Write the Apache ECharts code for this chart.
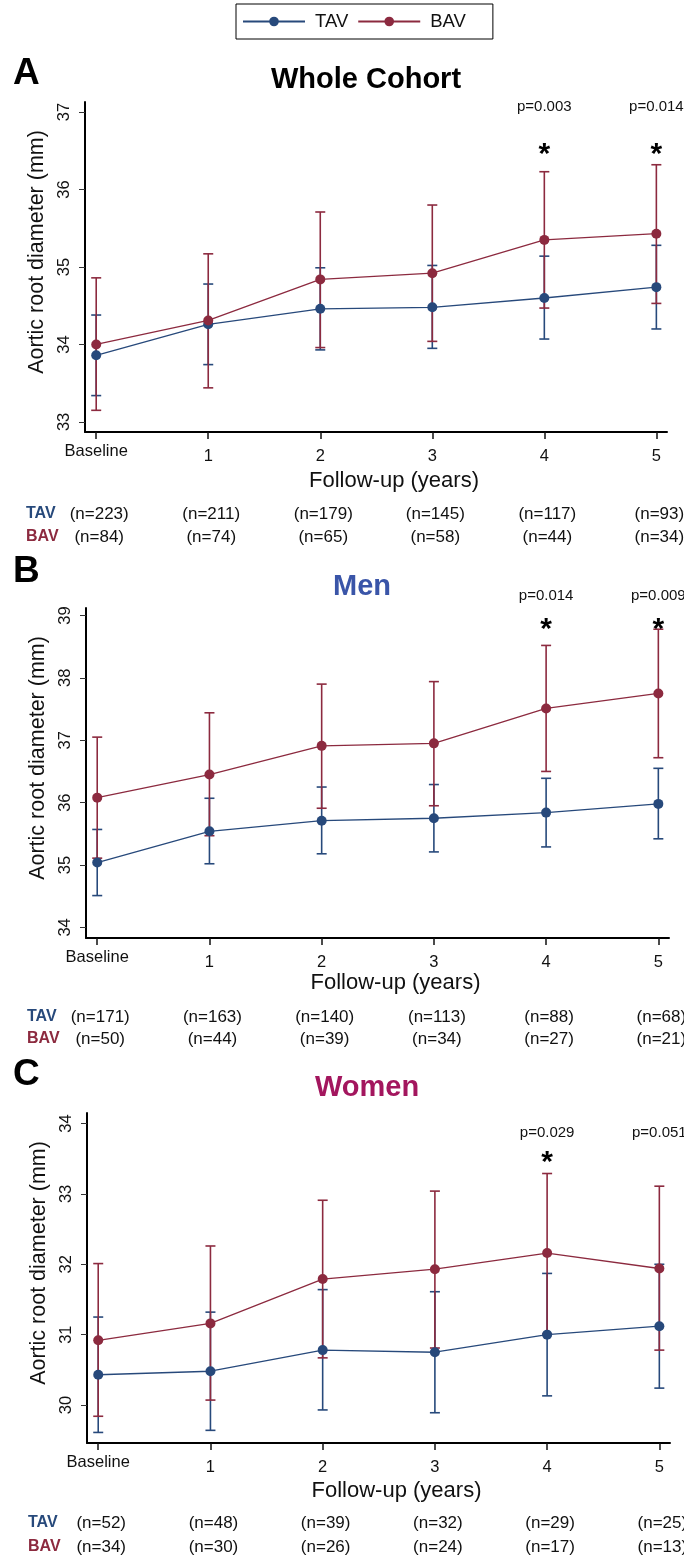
<!DOCTYPE html>
<html><head><meta charset="utf-8">
<script src="https://cdn.jsdelivr.net/npm/echarts@6/dist/echarts.min.js"></script>
<style>html,body{margin:0;padding:0;background:#fff}#c{width:684px;height:1557px}</style>
</head><body><div id="c"></div>
<script>
// ---------- data ----------
const years = [0, 1, 2, 3, 4, 5];
const xTickLabels = ['Baseline', '1', '2', '3', '4', '5'];
const seriesNames = ['TAV', 'BAV'];

// Panel A: Whole cohort
const tavA    = [33.86, 34.26, 34.46, 34.48, 34.60, 34.74];
const tavA_lo = [33.34, 33.74, 33.93, 33.95, 34.07, 34.20];
const tavA_hi = [34.38, 34.78, 34.99, 35.02, 35.14, 35.28];
const bavA    = [34.00, 34.31, 34.84, 34.92, 35.35, 35.43];
const bavA_lo = [33.15, 33.44, 33.96, 34.04, 34.47, 34.53];
const bavA_hi = [34.86, 35.17, 35.71, 35.80, 36.23, 36.32];
const nTavA = [223, 211, 179, 145, 117, 93];
const nBavA = [84, 74, 65, 58, 44, 34];
const pA    = ['', '', '', '', 'p=0.003', 'p=0.014'];
const starA = [false, false, false, false, true, true];
const yTicksA = [33, 34, 35, 36, 37];

// Panel B: Men
const tavB    = [35.04, 35.54, 35.71, 35.75, 35.84, 35.98];
const tavB_lo = [34.51, 35.02, 35.18, 35.21, 35.29, 35.42];
const tavB_hi = [35.57, 36.07, 36.25, 36.29, 36.39, 36.55];
const bavB    = [36.08, 36.45, 36.91, 36.95, 37.51, 37.75];
const bavB_lo = [35.11, 35.47, 35.91, 35.95, 36.50, 36.72];
const bavB_hi = [37.05, 37.44, 37.90, 37.94, 38.52, 38.78];
const nTavB = [171, 163, 140, 113, 88, 68];
const nBavB = [50, 44, 39, 34, 27, 21];
const pB    = ['', '', '', '', 'p=0.014', 'p=0.009'];
const starB = [false, false, false, false, true, true];
const yTicksB = [34, 35, 36, 37, 38, 39];

// Panel C: Women
const tavC    = [30.43, 30.48, 30.78, 30.75, 31.00, 31.12];
const tavC_lo = [29.61, 29.64, 29.93, 29.89, 30.13, 30.24];
const tavC_hi = [31.25, 31.32, 31.64, 31.61, 31.87, 32.00];
const bavC    = [30.92, 31.16, 31.79, 31.93, 32.16, 31.94];
const bavC_lo = [29.84, 30.07, 30.67, 30.81, 31.01, 30.78];
const bavC_hi = [32.01, 32.26, 32.91, 33.04, 33.29, 33.11];
const nTavC = [52, 48, 39, 32, 29, 25];
const nBavC = [34, 30, 26, 24, 17, 13];
const pC    = ['', '', '', '', 'p=0.029', 'p=0.051'];
const starC = [false, false, false, false, true, false];
const yTicksC = [30, 31, 32, 33, 34];

const titles = ['Whole Cohort', 'Men', 'Women'];
const letters = ['A', 'B', 'C'];

// ---------- style / layout ----------
const FONT = '"Liberation Sans", Arial, Helvetica, sans-serif';
const C_TAV = '#27497b';
const C_BAV = '#8c2a3f';
const titleColors = ['#000000', '#3a55a8', '#a3165e'];

const panels = [
  { tav: tavA, tavLo: tavA_lo, tavHi: tavA_hi, bav: bavA, bavLo: bavA_lo, bavHi: bavA_hi,
    nTav: nTavA, nBav: nBavA, p: pA, star: starA, yTicks: yTicksA,
    grid: { left: 85, right: 17, top: 102, height: 330 }, yMin: 32.87, yMax: 37.13,
    pOff: 5, starOff: 45, nOff: [82, 105], nameGap: 38, titleX: 366, titleY: 80, letterY: 74 },
  { tav: tavB, tavLo: tavB_lo, tavHi: tavB_hi, bav: bavB, bavLo: bavB_lo, bavHi: bavB_hi,
    nTav: nTavB, nBav: nBavB, p: pB, star: starB, yTicks: yTicksB,
    grid: { left: 86, right: 15, top: 608, height: 330 }, yMin: 33.83, yMax: 39.12,
    pOff: -12, starOff: 14, nOff: [79, 101], nameGap: 34, titleX: 362, titleY: 587, letterY: 572 },
  { tav: tavC, tavLo: tavC_lo, tavHi: tavC_hi, bav: bavC, bavLo: bavC_lo, bavHi: bavC_hi,
    nTav: nTavC, nBav: nBavC, p: pC, star: starC, yTicks: yTicksC,
    grid: { left: 87, right: 14, top: 1113, height: 330 }, yMin: 29.46, yMax: 34.15,
    pOff: 20, starOff: 42, nOff: [80, 104], nameGap: 37, titleX: 367, titleY: 1088, letterY: 1075 }
];

const grids = [], xAxes = [], yAxes = [], series = [], graphics = [];

panels.forEach((P, k) => {
  grids.push(Object.assign({ containLabel: false }, P.grid));
  xAxes.push({
    type: 'value', gridIndex: k, min: -0.1, max: 5.095,
    name: 'Follow-up (years)', nameLocation: 'middle', nameGap: P.nameGap,
    nameTextStyle: { fontFamily: FONT, fontSize: 22, color: '#111', padding: [0, 0, 0, 36] },
    axisLine: { show: true, onZero: false, lineStyle: { color: '#000', width: 2 } },
    axisTick: { show: true, customValues: years, length: 7, lineStyle: { color: '#111', width: 1.5 } },
    axisLabel: {
      customValues: years, margin: 11, fontFamily: FONT, fontSize: 16.5,
      formatter: v => v === 0 ? '{b|' + xTickLabels[0] + '}' : '{n|' + xTickLabels[years.indexOf(v)] + '}',
      rich: {
        b: { fontFamily: FONT, fontSize: 16.5, lineHeight: 17, color: '#111' },
        n: { fontFamily: FONT, fontSize: 16.5, lineHeight: 26, color: '#111' }
      }
    },
    splitLine: { show: false }
  });
  yAxes.push({
    type: 'value', gridIndex: k, min: P.yMin, max: P.yMax,
    name: 'Aortic root diameter (mm)', nameLocation: 'middle', nameGap: 35,
    nameTextStyle: { fontFamily: FONT, fontSize: 21.5, color: '#111', padding: [0, 0, 0, 30] },
    axisLine: { show: true, onZero: false, lineStyle: { color: '#000', width: 2 } },
    axisTick: { show: true, customValues: P.yTicks, length: 6, lineStyle: { color: '#333', width: 1 } },
    axisLabel: { customValues: P.yTicks, rotate: 90, margin: 12, fontFamily: FONT, fontSize: 16.5, color: '#111' },
    splitLine: { show: false }
  });

  const errSeries = (name, lo, hi, color) => ({
    type: 'custom', name: name + ' CI', xAxisIndex: k, yAxisIndex: k, z: 2,
    data: years.map((x, i) => [x, lo[i], hi[i]]),
    encode: { x: 0, y: [1, 2] },
    renderItem: (params, api) => {
      const x = api.value(0);
      const a = api.coord([x, api.value(2)]);
      const b = api.coord([x, api.value(1)]);
      const w = 5;
      const st = { stroke: color, lineWidth: 1.6 };
      return { type: 'group', children: [
        { type: 'line', shape: { x1: a[0], y1: a[1], x2: b[0], y2: b[1] }, style: st },
        { type: 'line', shape: { x1: a[0] - w, y1: a[1], x2: a[0] + w, y2: a[1] }, style: st },
        { type: 'line', shape: { x1: b[0] - w, y1: b[1], x2: b[0] + w, y2: b[1] }, style: st }
      ] };
    }
  });
  series.push(errSeries('TAV', P.tavLo, P.tavHi, C_TAV));
  series.push(errSeries('BAV', P.bavLo, P.bavHi, C_BAV));

  const lineSeries = (name, vals, color) => ({
    type: 'line', name: name, xAxisIndex: k, yAxisIndex: k, z: 3,
    data: years.map((x, i) => [x, vals[i]]),
    symbol: 'circle', symbolSize: 10, showSymbol: true,
    lineStyle: { color: color, width: 1.3 },
    itemStyle: { color: color },
    emphasis: { disabled: true },
    animation: false
  });
  series.push(lineSeries('TAV', P.tav, C_TAV));
  series.push(lineSeries('BAV', P.bav, C_BAV));

  // p-values and asterisks
  series.push({
    type: 'custom', name: 'pvals' + k, xAxisIndex: k, yAxisIndex: k, z: 5,
    data: years.map((x, i) => [x, P.bav[i]]),
    encode: { x: 0, y: 1 },
    renderItem: (params, api) => {
      const i = params.dataIndex;
      const cx = api.coord([api.value(0), P.yMin])[0];
      const top = params.coordSys.y;
      const ch = [];
      if (P.p[i]) ch.push({ type: 'text', x: cx, y: top + P.pOff,
        style: { text: P.p[i], fontFamily: FONT, fontSize: 15, fill: '#111', align: 'center', verticalAlign: 'middle' } });
      if (P.star[i]) ch.push({ type: 'text', x: cx, y: top + P.starOff + 8,
        style: { text: '*', fontFamily: FONT, fontWeight: 'bold', fontSize: 30, fill: '#000', align: 'center', verticalAlign: 'middle' } });
      return { type: 'group', children: ch };
    }
  });

  // n at risk rows
  series.push({
    type: 'custom', name: 'nrows' + k, xAxisIndex: k, yAxisIndex: k, z: 5,
    data: years.map((x, i) => [x, P.tav[i], P.nTav[i], P.nBav[i]]),
    encode: { x: 0, y: 1 },
    renderItem: (params, api) => {
      const i = params.dataIndex;
      const cx = api.coord([api.value(0), P.yMin])[0] + 3;
      const bottom = params.coordSys.y + params.coordSys.height;
      const ch = [
        { type: 'text', x: cx, y: bottom + P.nOff[0],
          style: { text: '(n=' + api.value(2) + ')', fontFamily: FONT, fontSize: 17, fill: '#111', align: 'center', verticalAlign: 'middle' } },
        { type: 'text', x: cx, y: bottom + P.nOff[1],
          style: { text: '(n=' + api.value(3) + ')', fontFamily: FONT, fontSize: 17, fill: '#111', align: 'center', verticalAlign: 'middle' } }
      ];
      if (i === 0) {
        const lx = params.coordSys.x - 59;
        ch.push({ type: 'text', x: lx, y: bottom + P.nOff[0],
          style: { text: seriesNames[0], fontFamily: FONT, fontWeight: 'bold', fontSize: 16, fill: C_TAV, align: 'left', verticalAlign: 'middle' } });
        ch.push({ type: 'text', x: lx, y: bottom + P.nOff[1],
          style: { text: seriesNames[1], fontFamily: FONT, fontWeight: 'bold', fontSize: 16, fill: C_BAV, align: 'left', verticalAlign: 'middle' } });
      }
      return { type: 'group', children: ch };
    }
  });

  graphics.push({ type: 'text', x: P.titleX, y: P.titleY,
    style: { text: titles[k], fontFamily: FONT, fontWeight: 'bold', fontSize: 29, fill: titleColors[k], align: 'center', verticalAlign: 'middle' } });
  graphics.push({ type: 'text', x: 13, y: P.letterY,
    style: { text: letters[k], fontFamily: FONT, fontWeight: 'bold', fontSize: 37, fill: '#000', align: 'left', verticalAlign: 'middle' } });
});

const chart = echarts.init(document.getElementById('c'), null, { renderer: 'canvas' });
chart.setOption({
  animation: false,
  backgroundColor: '#fff',
  grid: grids, xAxis: xAxes, yAxis: yAxes, series: series,
  legend: {
    data: seriesNames, left: 236, top: 4,
    padding: [8, 27, 8, 6], itemWidth: 62, itemHeight: 12, itemGap: 9,
    borderColor: '#000', borderWidth: 1,
    textStyle: { fontFamily: FONT, fontSize: 18.5, color: '#111', padding: [0, 0, 0, 5] },
    selectedMode: false
  },
  graphic: graphics
});
</script></body></html>
